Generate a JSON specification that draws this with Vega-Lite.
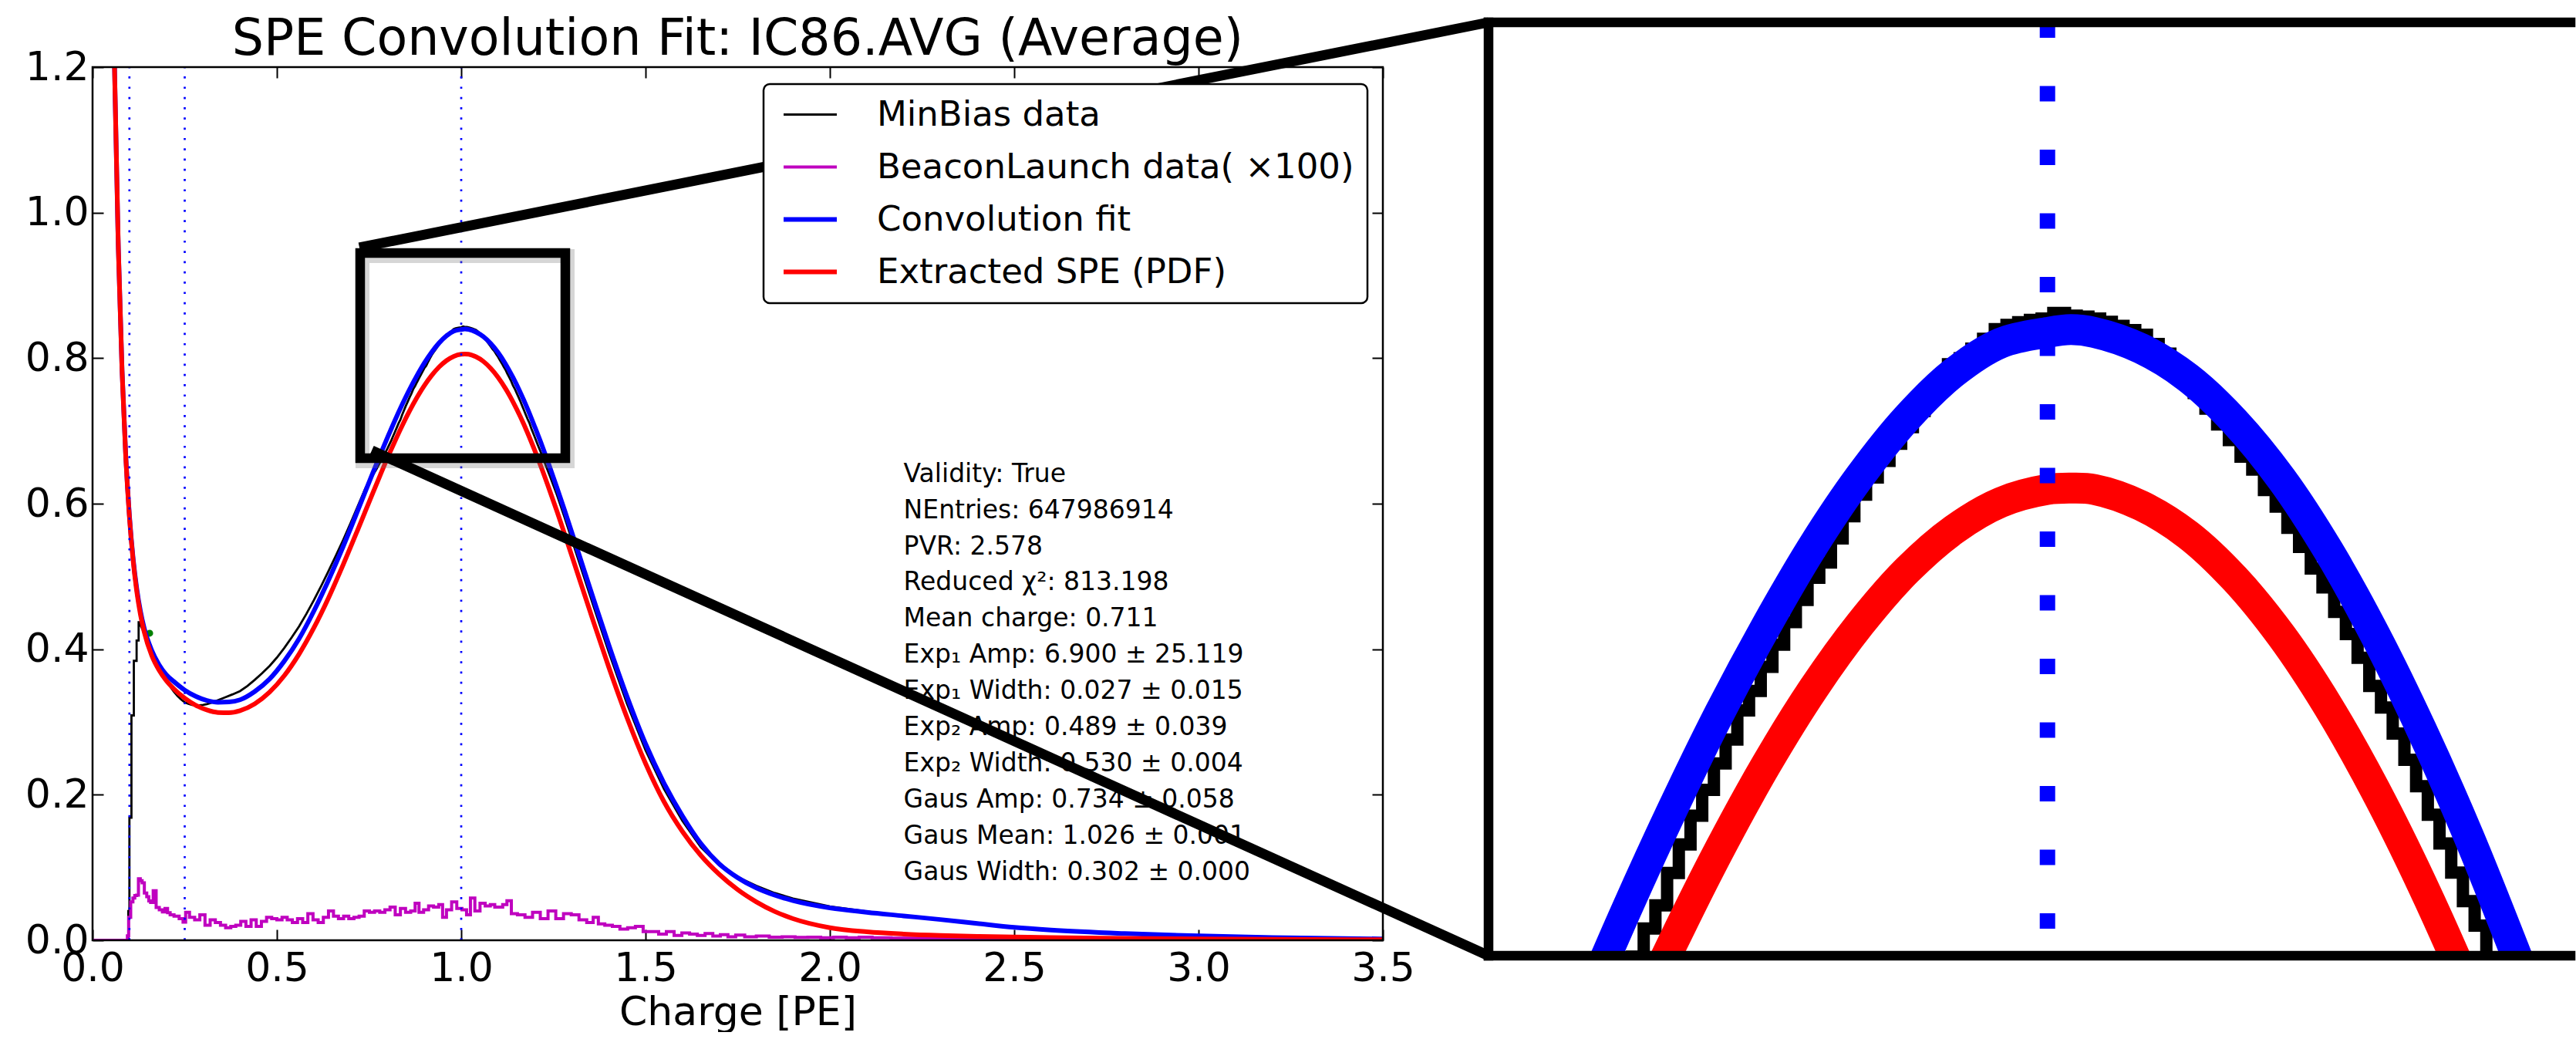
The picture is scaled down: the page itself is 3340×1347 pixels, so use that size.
{
 "$schema": "https://vega.github.io/schema/vega-lite/v6.json",
 "background": "white",
 "padding": {"left": 32, "top": 18, "right": 0, "bottom": 0},
 "bounds": "flush",
 "spacing": 137,
 "config": {
  "font": "DejaVu Sans",
  "view": {"stroke": null},
  "axis": {"labelFont": "DejaVu Sans", "titleFont": "DejaVu Sans", "labelColor": "black", "titleColor": "black", "tickColor": "black", "grid": false, "domain": false},
  "legend": {"labelFont": "DejaVu Sans"}
 },
 "datasets": {
  "fit": [
   {"x":0.0597,"value":1.2},{"x":0.06,"value":1.19},{"x":0.07,"value":0.951},{"x":0.08,"value":0.784},{"x":0.09,"value":0.667},{"x":0.1,"value":0.584},{"x":0.11,"value":0.525},{"x":0.12,"value":0.483},{"x":0.13,"value":0.452},{"x":0.14,"value":0.429},{"x":0.16,"value":0.399},{"x":0.18,"value":0.379},{"x":0.2,"value":0.365},{"x":0.22,"value":0.3558},{"x":0.25,"value":0.3438},{"x":0.28,"value":0.3352},{"x":0.31,"value":0.3296},{"x":0.34,"value":0.3271},{"x":0.37,"value":0.3275},{"x":0.4,"value":0.3305},{"x":0.44,"value":0.3419},{"x":0.48,"value":0.3589},{"x":0.52,"value":0.3836},{"x":0.56,"value":0.4142},{"x":0.6,"value":0.4521},{"x":0.64,"value":0.4949},{"x":0.68,"value":0.5414},{"x":0.72,"value":0.5913},{"x":0.74,"value":0.6167},{"x":0.76,"value":0.642},{"x":0.78,"value":0.6669},{"x":0.8,"value":0.6909},{"x":0.82,"value":0.7143},{"x":0.84,"value":0.7364},{"x":0.86,"value":0.7571},{"x":0.88,"value":0.776},{"x":0.9,"value":0.7933},{"x":0.92,"value":0.8083},{"x":0.94,"value":0.8209},{"x":0.96,"value":0.8307},{"x":0.98,"value":0.8371},{"x":1.0,"value":0.8394},{"x":1.01,"value":0.84},{"x":1.02,"value":0.8394},{"x":1.04,"value":0.8359},{"x":1.06,"value":0.8296},{"x":1.08,"value":0.8201},{"x":1.1,"value":0.8077},{"x":1.12,"value":0.7922},{"x":1.14,"value":0.7739},{"x":1.16,"value":0.7532},{"x":1.18,"value":0.7303},{"x":1.2,"value":0.705},{"x":1.22,"value":0.6787},{"x":1.24,"value":0.6506},{"x":1.26,"value":0.6216},{"x":1.28,"value":0.5916},{"x":1.32,"value":0.5295},{"x":1.36,"value":0.4673},{"x":1.4,"value":0.4063},{"x":1.45,"value":0.3346},{"x":1.5,"value":0.27},{"x":1.55,"value":0.216},{"x":1.6,"value":0.171},{"x":1.65,"value":0.133},{"x":1.7,"value":0.105},{"x":1.75,"value":0.086},{"x":1.8,"value":0.072},{"x":1.85,"value":0.062},{"x":1.9,"value":0.0545},{"x":2.0,"value":0.0445},{"x":2.1,"value":0.0385},{"x":2.2,"value":0.0335},{"x":2.3,"value":0.0285},{"x":2.4,"value":0.023},{"x":2.5,"value":0.0177},{"x":2.6,"value":0.014},{"x":2.8,"value":0.0092},{"x":3.0,"value":0.006},{"x":3.2,"value":0.0038},{"x":3.5,"value":0.0018}
  ],
  "spe": [
   {"x":0.0596,"value":1.2},{"x":0.06,"value":1.189},{"x":0.07,"value":0.95},{"x":0.08,"value":0.7824},{"x":0.09,"value":0.6647},{"x":0.1,"value":0.5816},{"x":0.11,"value":0.5221},{"x":0.12,"value":0.479},{"x":0.13,"value":0.4475},{"x":0.14,"value":0.424},{"x":0.16,"value":0.392},{"x":0.18,"value":0.3715},{"x":0.2,"value":0.3569},{"x":0.22,"value":0.3458},{"x":0.25,"value":0.3328},{"x":0.28,"value":0.323},{"x":0.31,"value":0.3166},{"x":0.34,"value":0.3131},{"x":0.37,"value":0.3127},{"x":0.4,"value":0.3155},{"x":0.44,"value":0.3249},{"x":0.48,"value":0.3409},{"x":0.52,"value":0.3636},{"x":0.56,"value":0.3932},{"x":0.6,"value":0.4291},{"x":0.64,"value":0.4705},{"x":0.68,"value":0.5164},{"x":0.72,"value":0.565},{"x":0.74,"value":0.5897},{"x":0.76,"value":0.6145},{"x":0.78,"value":0.6389},{"x":0.8,"value":0.6629},{"x":0.82,"value":0.6857},{"x":0.84,"value":0.7074},{"x":0.86,"value":0.7276},{"x":0.88,"value":0.746},{"x":0.9,"value":0.7623},{"x":0.92,"value":0.7763},{"x":0.94,"value":0.7879},{"x":0.96,"value":0.7967},{"x":0.98,"value":0.8026},{"x":1.0,"value":0.8054},{"x":1.01,"value":0.8057},{"x":1.02,"value":0.8054},{"x":1.04,"value":0.8019},{"x":1.06,"value":0.7956},{"x":1.08,"value":0.7861},{"x":1.1,"value":0.7737},{"x":1.12,"value":0.7584},{"x":1.14,"value":0.7404},{"x":1.16,"value":0.72},{"x":1.18,"value":0.6973},{"x":1.2,"value":0.6725},{"x":1.22,"value":0.6462},{"x":1.24,"value":0.6181},{"x":1.26,"value":0.5891},{"x":1.28,"value":0.5591},{"x":1.32,"value":0.4975},{"x":1.36,"value":0.4358},{"x":1.4,"value":0.3758},{"x":1.45,"value":0.3056},{"x":1.5,"value":0.243},{"x":1.55,"value":0.1905},{"x":1.6,"value":0.1495},{"x":1.65,"value":0.1166},{"x":1.7,"value":0.0906},{"x":1.75,"value":0.0695},{"x":1.8,"value":0.0529},{"x":1.85,"value":0.0396},{"x":1.9,"value":0.0297},{"x":2.0,"value":0.0173},{"x":2.1,"value":0.0116},{"x":2.2,"value":0.0085},{"x":2.3,"value":0.0066},{"x":2.4,"value":0.0054},{"x":2.5,"value":0.0045},{"x":2.6,"value":0.0037},{"x":2.8,"value":0.0026},{"x":3.0,"value":0.0018},{"x":3.2,"value":0.0013},{"x":3.5,"value":0.0008}
  ],
  "minbias": [
   {"x":0,"value":0},{"x":0.097,"value":0},{"x":0.097,"value":0.04},{"x":0.1,"value":0.04},{"x":0.1,"value":0.1685},{"x":0.1055,"value":0.1685},{"x":0.1055,"value":0.309},{"x":0.112,"value":0.309},{"x":0.112,"value":0.384},{"x":0.1195,"value":0.384},{"x":0.1195,"value":0.412},{"x":0.125,"value":0.412},{"x":0.125,"value":0.437},{"x":0.13,"value":0.437},{"x":0.13,"value":0.433},{"x":0.135,"value":0.428},{"x":0.14,"value":0.421},{"x":0.15,"value":0.405},{"x":0.16,"value":0.392},{"x":0.17,"value":0.381},{"x":0.18,"value":0.372},{"x":0.19,"value":0.364},{"x":0.2,"value":0.356},{"x":0.21,"value":0.349},{"x":0.22,"value":0.342},{"x":0.23,"value":0.336},{"x":0.24,"value":0.331},{"x":0.25,"value":0.327},{"x":0.26,"value":0.325},{"x":0.27,"value":0.3235},{"x":0.28,"value":0.323},{"x":0.29,"value":0.323},{"x":0.3,"value":0.3235},{"x":0.31,"value":0.3245},{"x":0.32,"value":0.326},{"x":0.33,"value":0.328},{"x":0.34,"value":0.33},{"x":0.36,"value":0.334},{"x":0.38,"value":0.338},{"x":0.4,"value":0.3425},{"x":0.42,"value":0.3495},{"x":0.44,"value":0.3579},{"x":0.46,"value":0.367},{"x":0.48,"value":0.3769},{"x":0.5,"value":0.3885},{"x":0.52,"value":0.4016},{"x":0.54,"value":0.416},{"x":0.56,"value":0.4312},{"x":0.58,"value":0.4485},{"x":0.6,"value":0.4671},{"x":0.62,"value":0.4868},{"x":0.64,"value":0.5074},{"x":0.66,"value":0.5285},{"x":0.68,"value":0.5504},{"x":0.7,"value":0.5735},{"x":0.72,"value":0.5973},{"x":0.74,"value":0.621},{"x":0.745,"value":0.6255},
   {"x":0.75,"value":0.6304},{"x":0.755,"value":0.6347},{"x":0.76,"value":0.639},{"x":0.765,"value":0.6432},{"x":0.77,"value":0.6475},{"x":0.775,"value":0.6522},{"x":0.78,"value":0.6569},{"x":0.785,"value":0.6614},{"x":0.79,"value":0.6659},{"x":0.795,"value":0.6709},{"x":0.8,"value":0.6759},{"x":0.805,"value":0.6813},{"x":0.81,"value":0.6866},{"x":0.815,"value":0.6925},{"x":0.82,"value":0.6983},{"x":0.825,"value":0.7043},{"x":0.83,"value":0.7104},{"x":0.835,"value":0.7154},{"x":0.84,"value":0.7224},{"x":0.845,"value":0.7286},{"x":0.85,"value":0.7348},{"x":0.855,"value":0.7404},{"x":0.86,"value":0.7461},{"x":0.865,"value":0.7513},{"x":0.87,"value":0.7576},{"x":0.875,"value":0.7618},{"x":0.88,"value":0.767},{"x":0.885,"value":0.7718},{"x":0.89,"value":0.7767},{"x":0.895,"value":0.7815},{"x":0.9,"value":0.7863},{"x":0.905,"value":0.7896},{"x":0.91,"value":0.7948},{"x":0.915,"value":0.7996},{"x":0.92,"value":0.8043},{"x":0.925,"value":0.808},{"x":0.93,"value":0.8116},{"x":0.935,"value":0.8153},{"x":0.94,"value":0.8189},{"x":0.945,"value":0.8224},{"x":0.95,"value":0.8258},{"x":0.955,"value":0.8288},{"x":0.96,"value":0.8325},{"x":0.965,"value":0.8338},{"x":0.97,"value":0.8359},{"x":0.975,"value":0.838},{"x":0.98,"value":0.8401},{"x":0.985,"value":0.841},{"x":0.99,"value":0.8416},{"x":0.995,"value":0.8421},{"x":1.0,"value":0.8424},{"x":1.005,"value":0.8436},{"x":1.01,"value":0.843},{"x":1.015,"value":0.8428},{"x":1.02,"value":0.8424},{"x":1.025,"value":0.8417},{"x":1.03,"value":0.8408},{"x":1.035,"value":0.8399},{"x":1.04,"value":0.8389},{"x":1.045,"value":0.8369},{"x":1.05,"value":0.8348},{"x":1.055,"value":0.8322},{"x":1.06,"value":0.8296},{"x":1.065,"value":0.8263},{"x":1.07,"value":0.8229},{"x":1.075,"value":0.8195},{"x":1.08,"value":0.8161},{"x":1.085,"value":0.8125},{"x":1.09,"value":0.8097},{"x":1.095,"value":0.8053},{"x":1.1,"value":0.8017},{"x":1.105,"value":0.7971},{"x":1.11,"value":0.793},{"x":1.115,"value":0.7883},{"x":1.12,"value":0.7842},{"x":1.125,"value":0.7789},{"x":1.13,"value":0.7741},{"x":1.135,"value":0.769},{"x":1.14,"value":0.7629},{"x":1.145,"value":0.7582},{"x":1.15,"value":0.7526},{"x":1.155,"value":0.7469},{"x":1.16,"value":0.7412},{"x":1.165,"value":0.735},{"x":1.17,"value":0.7288},{"x":1.175,"value":0.7225},{"x":1.18,"value":0.7163},{"x":1.185,"value":0.711},{"x":1.19,"value":0.7037},{"x":1.195,"value":0.6973},{"x":1.2,"value":0.691},{"x":1.205,"value":0.6844},{"x":1.21,"value":0.6779},{"x":1.215,"value":0.6718},{"x":1.22,"value":0.6657},{"x":1.225,"value":0.6587},{"x":1.23,"value":0.6517},
   {"x":1.24,"value":0.6386},{"x":1.26,"value":0.6116},{"x":1.28,"value":0.5816},{"x":1.32,"value":0.5195},{"x":1.36,"value":0.4573},{"x":1.4,"value":0.3963},{"x":1.45,"value":0.3246},{"x":1.5,"value":0.261},{"x":1.55,"value":0.208},{"x":1.6,"value":0.164},{"x":1.65,"value":0.128},{"x":1.7,"value":0.103},{"x":1.75,"value":0.087},{"x":1.8,"value":0.075},{"x":1.85,"value":0.065},{"x":1.9,"value":0.0575},{"x":2.0,"value":0.0465},{"x":2.1,"value":0.0395},{"x":2.2,"value":0.0335},{"x":2.4,"value":0.023},{"x":2.6,"value":0.014},{"x":2.8,"value":0.0092},{"x":3.0,"value":0.006},{"x":3.2,"value":0.0038},{"x":3.5,"value":0.0018}
  ],
  "beacon": [
   {"x":0,"value":0},{"x":0.093,"value":0},{"x":0.096,"value":0.006},{"x":0.1,"value":0.0315},{"x":0.107,"value":0.0527},{"x":0.112,"value":0.058},{"x":0.117,"value":0.0615},{"x":0.122,"value":0.062},{"x":0.127,"value":0.0845},{"x":0.132,"value":0.082},{"x":0.137,"value":0.079},{"x":0.144,"value":0.065},{"x":0.15,"value":0.06},{"x":0.155,"value":0.054},{"x":0.16,"value":0.052},{"x":0.169,"value":0.068},{"x":0.176,"value":0.045},{"x":0.186,"value":0.042},{"x":0.193,"value":0.039},{"x":0.2,"value":0.0438},{"x":0.207,"value":0.038},{"x":0.214,"value":0.035},{"x":0.228,"value":0.0332},{"x":0.242,"value":0.0297},{"x":0.249,"value":0.025},{"x":0.256,"value":0.0385},{"x":0.27,"value":0.0315},{"x":0.284,"value":0.028},{"x":0.298,"value":0.035},{"x":0.312,"value":0.0208},{"x":0.326,"value":0.028},{"x":0.34,"value":0.0244},{"x":0.354,"value":0.0208},{"x":0.368,"value":0.0173},{"x":0.382,"value":0.019},{"x":0.395,"value":0.0208},{"x":0.409,"value":0.0261},{"x":0.423,"value":0.019},{"x":0.437,"value":0.028},{"x":0.451,"value":0.019},{"x":0.465,"value":0.0261},{"x":0.479,"value":0.0315},{"x":0.493,"value":0.0297},{"x":0.507,"value":0.028},{"x":0.521,"value":0.0315},{"x":0.535,"value":0.028},{"x":0.549,"value":0.0244},{"x":0.563,"value":0.0297},{"x":0.577,"value":0.0244},{"x":0.591,"value":0.0367},{"x":0.605,"value":0.028},{"x":0.619,"value":0.0244},{"x":0.633,"value":0.0315},{"x":0.647,"value":0.0403},{"x":0.66,"value":0.0332},{"x":0.674,"value":0.0297},{"x":0.688,"value":0.0332},{"x":0.702,"value":0.0297},{"x":0.716,"value":0.0315},{"x":0.73,"value":0.0332},{"x":0.744,"value":0.0403},{"x":0.758,"value":0.0385},{"x":0.772,"value":0.0403},{"x":0.786,"value":0.0385},{"x":0.8,"value":0.042},{"x":0.814,"value":0.0456},{"x":0.828,"value":0.035},{"x":0.842,"value":0.0438},{"x":0.856,"value":0.0385},{"x":0.87,"value":0.0403},{"x":0.88,"value":0.0509},{"x":0.891,"value":0.0385},{"x":0.905,"value":0.042},{"x":0.918,"value":0.0473},{"x":0.932,"value":0.0456},{"x":0.946,"value":0.0491},{"x":0.953,"value":0.0315},{"x":0.967,"value":0.042},{"x":0.981,"value":0.0527},{"x":0.995,"value":0.0438},{"x":1.009,"value":0.042},{"x":1.02,"value":0.035},{"x":1.03,"value":0.058},{"x":1.044,"value":0.0403},{"x":1.058,"value":0.0509},{"x":1.072,"value":0.0473},{"x":1.086,"value":0.0491},{"x":1.096,"value":0.0456},{"x":1.107,"value":0.0456},{"x":1.118,"value":0.049},{"x":1.13,"value":0.0544},{"x":1.142,"value":0.0367},{"x":1.163,"value":0.035},{"x":1.183,"value":0.0315},{"x":1.204,"value":0.0385},{"x":1.225,"value":0.0297},{"x":1.246,"value":0.0403},{"x":1.267,"value":0.0297},{"x":1.288,"value":0.0367},{"x":1.309,"value":0.035},{"x":1.33,"value":0.028},{"x":1.351,"value":0.0244},{"x":1.365,"value":0.0315},{"x":1.379,"value":0.0226},{"x":1.4,"value":0.0208},{"x":1.42,"value":0.019},{"x":1.441,"value":0.0155},{"x":1.462,"value":0.0173},{"x":1.483,"value":0.019},{"x":1.504,"value":0.012},{"x":1.525,"value":0.012},{"x":1.546,"value":0.0085},{"x":1.567,"value":0.012},{"x":1.588,"value":0.0067},{"x":1.609,"value":0.0102},{"x":1.63,"value":0.0085},{"x":1.651,"value":0.0067},{"x":1.672,"value":0.0092},{"x":1.693,"value":0.0057},{"x":1.713,"value":0.0078},{"x":1.734,"value":0.0049},{"x":1.755,"value":0.0071},{"x":1.783,"value":0.0049},{"x":1.818,"value":0.0057},{"x":1.853,"value":0.0042},{"x":1.888,"value":0.0049},{"x":1.923,"value":0.0039},{"x":1.958,"value":0.0042},{"x":1.992,"value":0.0035},{"x":2.027,"value":0.0042},{"x":2.062,"value":0.0035},{"x":2.097,"value":0.0042},{"x":2.132,"value":0.0035},{"x":2.2,"value":0.003},{"x":2.3,"value":0.0025},{"x":2.4,"value":0.002},{"x":2.5,"value":0.0018},{"x":2.7,"value":0.0015},{"x":3.0,"value":0.0012},{"x":3.5,"value":0.001}
  ]
 },
 "hconcat": [
  {
   "width": 1673,
   "height": 1190,
   "resolve": {"axis": {"x": "independent", "y": "independent"}},
   "layer": [
    {
     "data": {"name": "minbias"},
     "mark": {"type": "line", "strokeWidth": 2.8, "clip": true, "interpolate": "linear"},
     "encoding": {
      "x": {"field": "x", "type": "quantitative", "scale": {"domain": [0, 3.5], "nice": false, "zero": false},
            "axis": {"orient": "bottom", "values": [0, 0.5, 1, 1.5, 2, 2.5, 3, 3.5], "format": ".1f", "labelFontSize": 52, "labelPadding": 25, "labelFlush": false, "labelOverlap": false, "tickSize": -14, "tickWidth": 2, "title": "Charge [PE]", "titleFontSize": 52, "titleFontWeight": "normal", "titlePadding": 47, "titleBaseline": "alphabetic"}},
      "y": {"field": "value", "type": "quantitative", "scale": {"domain": [0, 1.2615], "nice": false, "zero": false},
            "axis": {"orient": "left", "values": [0, 0.2, 0.4, 0.6, 0.8, 1.0, 1.2], "format": ".1f", "labelFontSize": 52, "labelPadding": 19, "labelFlush": false, "labelOverlap": false, "tickSize": -14, "tickWidth": 2, "title": null}},
      "color": {"datum": "MinBias data", "type": "nominal",
                "scale": {"domain": ["MinBias data", "BeaconLaunch data( ×100)", "Convolution fit", "Extracted SPE (PDF)"], "range": ["#000000", "#bf00bf", "#0000ff", "#ff0000"]},
                "legend": {"orient": "none", "legendX": 870, "legendY": 80, "title": null, "direction": "vertical", "symbolType": "stroke", "symbolSize": 4761, "labelFontSize": 45, "labelColor": "black", "labelLimit": 2000, "labelOffset": 64, "symbolOffset": 21, "padding": 17, "rowPadding": 22, "zindex": 0,
                           "encode": {
                            "legend": {"update": {"stroke": {"value": "black"}, "strokeWidth": {"value": 2.5}, "cornerRadius": {"value": 8}, "fill": {"value": "white"}}},
                            "symbols": {"update": {"strokeWidth": {"signal": "datum.value == 'MinBias data' ? 2.8 : (datum.value == 'Convolution fit' || datum.value == 'Extracted SPE (PDF)') ? 6 : 4"}}}}}}
     }
    },
    {
     "data": {"name": "beacon"},
     "mark": {"type": "line", "strokeWidth": 4, "clip": true, "interpolate": "step"},
     "encoding": {
      "x": {"field": "x", "type": "quantitative", "scale": {"domain": [0, 3.5], "nice": false, "zero": false},
            "axis": {"orient": "top", "offset": -58, "values": [0, 0.5, 1, 1.5, 2, 2.5, 3, 3.5], "labels": false, "tickSize": -14, "tickWidth": 2, "title": null}},
      "y": {"field": "value", "type": "quantitative", "scale": {"domain": [0, 1.2615], "nice": false, "zero": false},
            "axis": {"orient": "right", "values": [0, 0.2, 0.4, 0.6, 0.8, 1.0, 1.2], "labels": false, "tickSize": -14, "tickWidth": 2, "title": null}},
      "color": {"datum": "BeaconLaunch data( ×100)", "type": "nominal", "scale": {"domain": ["MinBias data", "BeaconLaunch data( ×100)", "Convolution fit", "Extracted SPE (PDF)"], "range": ["#000000", "#bf00bf", "#0000ff", "#ff0000"]}}
     }
    },
    {
     "data": {"values": [{"x": 0.155, "value": 0.422}]},
     "mark": {"type": "point", "filled": true, "color": "#008000", "size": 80, "opacity": 1},
     "encoding": {
      "x": {"field": "x", "type": "quantitative", "scale": {"domain": [0, 3.5], "nice": false, "zero": false}, "axis": null},
      "y": {"field": "value", "type": "quantitative", "scale": {"domain": [0, 1.2615], "nice": false, "zero": false}, "axis": null}
     }
    },
    {
     "data": {"name": "fit"},
     "mark": {"type": "line", "strokeWidth": 6, "clip": true, "interpolate": "monotone"},
     "encoding": {
      "x": {"field": "x", "type": "quantitative", "scale": {"domain": [0, 3.5], "nice": false, "zero": false}, "axis": null},
      "y": {"field": "value", "type": "quantitative", "scale": {"domain": [0, 1.2615], "nice": false, "zero": false}, "axis": null},
      "color": {"datum": "Convolution fit", "type": "nominal", "scale": {"domain": ["MinBias data", "BeaconLaunch data( ×100)", "Convolution fit", "Extracted SPE (PDF)"], "range": ["#000000", "#bf00bf", "#0000ff", "#ff0000"]}}
     }
    },
    {
     "data": {"name": "spe"},
     "mark": {"type": "line", "strokeWidth": 6, "clip": true, "interpolate": "monotone"},
     "encoding": {
      "x": {"field": "x", "type": "quantitative", "scale": {"domain": [0, 3.5], "nice": false, "zero": false}, "axis": null},
      "y": {"field": "value", "type": "quantitative", "scale": {"domain": [0, 1.2615], "nice": false, "zero": false}, "axis": null},
      "color": {"datum": "Extracted SPE (PDF)", "type": "nominal", "scale": {"domain": ["MinBias data", "BeaconLaunch data( ×100)", "Convolution fit", "Extracted SPE (PDF)"], "range": ["#000000", "#bf00bf", "#0000ff", "#ff0000"]}}
     }
    },
    {
     "data": {"values": [{"x": 0.1}, {"x": 0.25}, {"x": 1.0}]},
     "mark": {"type": "rule", "color": "#0000ff", "strokeWidth": 2.7, "strokeDash": [2.7, 10.6]},
     "encoding": {
      "x": {"field": "x", "type": "quantitative", "scale": {"domain": [0, 3.5], "nice": false, "zero": false}, "axis": null},
      "y": {"datum": 0, "type": "quantitative", "scale": {"domain": [0, 1.2615], "nice": false, "zero": false}, "axis": null},
      "y2": {"datum": 1.2}
     }
    },
    {
     "data": {"values": [{}]},
     "mark": {"type": "rect", "fillOpacity": 0, "stroke": "black", "strokeWidth": 2.5, "clip": false},
     "encoding": {
      "x": {"datum": 0, "type": "quantitative", "scale": {"domain": [0, 3.5], "nice": false, "zero": false}, "axis": null},
      "x2": {"datum": 3.5},
      "y": {"datum": 0, "type": "quantitative", "scale": {"domain": [0, 1.2615], "nice": false, "zero": false}, "axis": null},
      "y2": {"datum": 1.2}
     }
    },
    {
     "data": {"values": [{}]},
     "mark": {"type": "text", "align": "center", "baseline": "alphabetic", "fontSize": 65, "font": "DejaVu Sans", "color": "black", "text": "SPE Convolution Fit: IC86.AVG (Average)", "clip": false},
     "encoding": {
      "x": {"datum": 1.75, "type": "quantitative", "scale": {"domain": [0, 3.5], "nice": false, "zero": false}, "axis": null},
      "y": {"datum": 1.217, "type": "quantitative", "scale": {"domain": [0, 1.2615], "nice": false, "zero": false}, "axis": null}
     }
    },
    {
     "data": {"values": [{}]},
     "mark": {"type": "text", "align": "left", "baseline": "alphabetic", "fontSize": 33, "lineHeight": 46.9, "font": "DejaVu Sans", "color": "black",
              "text": ["Validity: True", "NEntries: 647986914", "PVR: 2.578", "Reduced χ²: 813.198", "Mean charge: 0.711", "Exp₁  Amp: 6.900 ± 25.119", "Exp₁  Width: 0.027 ± 0.015", "Exp₂  Amp: 0.489 ± 0.039", "Exp₂  Width: 0.530 ± 0.004", "Gaus Amp: 0.734 ± 0.058", "Gaus Mean: 1.026 ± 0.001", "Gaus Width: 0.302 ± 0.000"]},
     "encoding": {
      "x": {"datum": 2.2, "type": "quantitative", "scale": {"domain": [0, 3.5], "nice": false, "zero": false}, "axis": null},
      "y": {"datum": 0.63, "type": "quantitative", "scale": {"domain": [0, 1.2615], "nice": false, "zero": false}, "axis": null}
     }
    },
    {
     "data": {"values": [{}]},
     "mark": {"type": "rect", "fillOpacity": 0, "stroke": "#777777", "strokeOpacity": 0.3, "strokeWidth": 18, "clip": false},
     "encoding": {
      "x": {"datum": 0.7322, "type": "quantitative", "scale": {"domain": [0, 3.5], "nice": false, "zero": false}, "axis": null},
      "x2": {"datum": 1.2887},
      "y": {"datum": 0.6584, "type": "quantitative", "scale": {"domain": [0, 1.2615], "nice": false, "zero": false}, "axis": null},
      "y2": {"datum": 0.9404}
     }
    },
    {
     "data": {"values": [{}]},
     "mark": {"type": "rect", "fillOpacity": 0, "stroke": "black", "strokeWidth": 12.5, "clip": false},
     "encoding": {
      "x": {"datum": 0.7259, "type": "quantitative", "scale": {"domain": [0, 3.5], "nice": false, "zero": false}, "axis": null},
      "x2": {"datum": 1.2824},
      "y": {"datum": 0.6626, "type": "quantitative", "scale": {"domain": [0, 1.2615], "nice": false, "zero": false}, "axis": null},
      "y2": {"datum": 0.9446}
     }
    },
    {
     "data": {"values": [{}]},
     "mark": {"type": "rule", "color": "black", "strokeWidth": 13, "clip": false},
     "encoding": {
      "x": {"datum": 0.7238, "type": "quantitative", "scale": {"domain": [0, 3.5], "nice": false, "zero": false}, "axis": null},
      "x2": {"datum": 3.7866},
      "y": {"datum": 0.952, "type": "quantitative", "scale": {"domain": [0, 1.2615], "nice": false, "zero": false}, "axis": null},
      "y2": {"datum": 1.2615}
     }
    },
    {
     "data": {"values": [{}]},
     "mark": {"type": "rule", "color": "black", "strokeWidth": 13, "clip": false},
     "encoding": {
      "x": {"datum": 0.7573, "type": "quantitative", "scale": {"domain": [0, 3.5], "nice": false, "zero": false}, "axis": null},
      "x2": {"datum": 3.7866},
      "y": {"datum": 0.6732, "type": "quantitative", "scale": {"domain": [0, 1.2615], "nice": false, "zero": false}, "axis": null},
      "y2": {"datum": -0.0212}
     }
    }
   ]
  },
  {
   "width": 1403,
   "height": 1210,
   "layer": [
    {
     "data": {"name": "minbias"},
     "mark": {"type": "line", "strokeWidth": 16, "clip": true, "interpolate": "step", "color": "#000000"},
     "encoding": {
      "x": {"field": "x", "type": "quantitative", "scale": {"domain": [0.7612, 1.2235], "nice": false, "zero": false}, "axis": null},
      "y": {"field": "value", "type": "quantitative", "scale": {"domain": [0.7045, 0.9065], "nice": false, "zero": false}, "axis": null}
     }
    },
    {
     "data": {"name": "fit"},
     "mark": {"type": "line", "strokeWidth": 40, "clip": true, "interpolate": "catmull-rom", "color": "#0000ff"},
     "encoding": {
      "x": {"field": "x", "type": "quantitative", "scale": {"domain": [0.7612, 1.2235], "nice": false, "zero": false}, "axis": null},
      "y": {"field": "value", "type": "quantitative", "scale": {"domain": [0.7045, 0.9065], "nice": false, "zero": false}, "axis": null}
     }
    },
    {
     "data": {"name": "spe"},
     "mark": {"type": "line", "strokeWidth": 40, "clip": true, "interpolate": "catmull-rom", "color": "#ff0000"},
     "encoding": {
      "x": {"field": "x", "type": "quantitative", "scale": {"domain": [0.7612, 1.2235], "nice": false, "zero": false}, "axis": null},
      "y": {"field": "value", "type": "quantitative", "scale": {"domain": [0.7045, 0.9065], "nice": false, "zero": false}, "axis": null}
     }
    },
    {
     "data": {"values": [{}]},
     "mark": {"type": "rule", "color": "#0000ff", "strokeWidth": 20, "strokeDash": [20, 62.5], "clip": true},
     "encoding": {
      "x": {"datum": 1.0, "type": "quantitative", "scale": {"domain": [0.7612, 1.2235], "nice": false, "zero": false}, "axis": null}
     }
    },
    {
     "data": {"values": [{}]},
     "mark": {"type": "rule", "color": "black", "strokeWidth": 12.5, "strokeCap": "square", "clip": false},
     "encoding": {
      "y": {"datum": 0.9065, "type": "quantitative", "scale": {"domain": [0.7045, 0.9065], "nice": false, "zero": false}, "axis": null}
     }
    },
    {
     "data": {"values": [{}]},
     "mark": {"type": "rule", "color": "black", "strokeWidth": 12.5, "strokeCap": "square", "clip": false},
     "encoding": {
      "y": {"datum": 0.7045, "type": "quantitative", "scale": {"domain": [0.7045, 0.9065], "nice": false, "zero": false}, "axis": null}
     }
    },
    {
     "data": {"values": [{}]},
     "mark": {"type": "rule", "color": "black", "strokeWidth": 12.5, "strokeCap": "square", "clip": false},
     "encoding": {
      "x": {"datum": 0.7612, "type": "quantitative", "scale": {"domain": [0.7612, 1.2235], "nice": false, "zero": false}, "axis": null}
     }
    }
   ]
  }
 ]
}
